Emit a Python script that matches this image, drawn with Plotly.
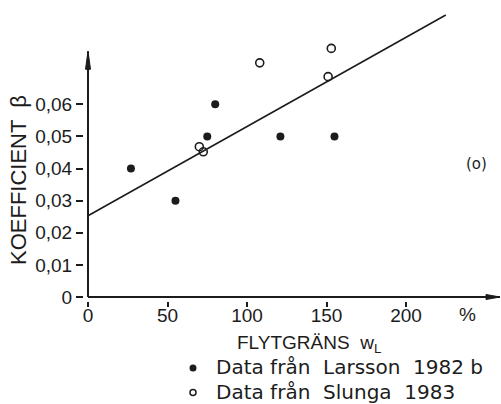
import plotly.graph_objects as go

# Liquid limit w_L (%) and coefficient beta
larsson_w = [27, 55, 75, 80, 121, 155]
larsson_beta = [0.040, 0.030, 0.050, 0.060, 0.050, 0.050]

slunga_w = [70, 72.5, 108, 153, 151]
slunga_beta = [0.0468, 0.0452, 0.0729, 0.0774, 0.0686]

# Fitted trend line end points
line_w = [0, 225]
line_beta = [0.0253, 0.0878]

x_ticks = [0, 50, 100, 150, 200]
x_ticktext = ["0", "50", "100", "150", "200"]
y_ticks = [0, 0.01, 0.02, 0.03, 0.04, 0.05, 0.06]
y_ticktext = ["0", "0,01", "0,02", "0,03", "0,04", "0,05", "0,06"]

legend_labels = ["Data från  Larsson  1982 b", "Data från  Slunga  1983"]

INK = "#1c1c1c"
TICK_FONT = dict(family="Liberation Sans, Arial, sans-serif", size=19, color=INK)
TITLE_FONT = dict(family="Liberation Sans, Arial, sans-serif", size=22, color=INK)
TEXT_FONT = dict(family="DejaVu Sans, sans-serif", size=20, color=INK)

X_MIN, X_MAX = -2.516, 259.1
Y_MIN, Y_MAX = -0.001245, 0.09247
Y_AXIS_TOP = 0.0765

# page layout in pixels
W, H = 501, 404
ML, MR, MT, MB = 84, 1, 0, 103
PW, PH = W - ML - MR, H - MT - MB


def px(xp):
    return (xp - ML) / PW


def py(yp):
    return (H - MB - yp) / PH


fig = go.Figure()

fig.add_trace(go.Scatter(
    x=line_w, y=line_beta, mode="lines",
    line=dict(color=INK, width=1.6), showlegend=False, hoverinfo="skip",
))
fig.add_trace(go.Scatter(
    x=larsson_w, y=larsson_beta, mode="markers", showlegend=False,
    name=legend_labels[0],
    marker=dict(symbol="circle", size=8, color=INK, line=dict(width=0)),
))
fig.add_trace(go.Scatter(
    x=slunga_w, y=slunga_beta, mode="markers", showlegend=False,
    name=legend_labels[1],
    marker=dict(symbol="circle-open", size=8, color=INK, line=dict(width=1.6)),
))

# Axis lines with arrow tips
fig.add_shape(type="line", x0=0, x1=0, y0=0, y1=Y_AXIS_TOP,
              line=dict(color=INK, width=2))
fig.add_shape(type="line", x0=0, x1=X_MAX, y0=0, y1=0,
              line=dict(color=INK, width=2))
fig.add_shape(type="path", xsizemode="pixel", ysizemode="pixel",
              xanchor=0, yanchor=Y_AXIS_TOP,
              path="M -2.5 -18 L 0 0 L 2.5 -18 Z",
              fillcolor=INK, line=dict(color=INK, width=1))
fig.add_shape(type="path", xsizemode="pixel", ysizemode="pixel",
              xanchor=X_MAX, yanchor=0,
              path="M -14 -2.5 L 0 0 L -14 2.5 Z",
              fillcolor=INK, line=dict(color=INK, width=1))

# Key below the chart
key_rows = [(368, True), (392.5, False)]
for label, (row_y, filled) in zip(legend_labels, key_rows):
    fig.add_shape(type="circle", xref="paper", yref="paper",
                  xsizemode="pixel", ysizemode="pixel",
                  xanchor=px(193), yanchor=py(row_y),
                  x0=-3.5 if filled else -3, x1=3.5 if filled else 3,
                  y0=-3.5 if filled else -3, y1=3.5 if filled else 3,
                  fillcolor=INK if filled else "white",
                  line=dict(color=INK, width=0 if filled else 1.5))
    fig.add_annotation(x=px(214), y=py(row_y - 1), xref="paper", yref="paper",
                       text=label, showarrow=False, font=TEXT_FONT,
                       xanchor="left", yanchor="middle")

fig.add_annotation(x=px(467), y=py(314), xref="paper", yref="paper", text="%",
                   showarrow=False, font=TICK_FONT, xanchor="center", yanchor="middle")
fig.add_annotation(x=px(235), y=py(344), xref="paper", yref="paper",
                   text="FLYTGRÄNS  w<sub>L</sub>",
                   showarrow=False, font=TICK_FONT, xanchor="left", yanchor="middle")
fig.add_annotation(x=px(19), y=py(180), xref="paper", yref="paper",
                   text="KOEFFICIENT  β", textangle=-90,
                   showarrow=False, font=TITLE_FONT, xanchor="center", yanchor="middle")
fig.add_annotation(x=244.5, y=0.0415, xref="x", yref="y", text="(o)",
                   showarrow=False,
                   font=dict(family="DejaVu Sans, sans-serif", size=15, color=INK))

fig.update_xaxes(
    range=[X_MIN, X_MAX], showgrid=False, zeroline=False, showline=False,
    tickmode="array", tickvals=x_ticks, ticktext=x_ticktext,
    ticks="outside", ticklen=5, tickwidth=1.5, tickcolor=INK,
    ticklabelstandoff=-8, tickfont=TICK_FONT,
)
fig.update_yaxes(
    range=[Y_MIN, Y_MAX], showgrid=False, zeroline=False, showline=False,
    tickmode="array", tickvals=y_ticks, ticktext=y_ticktext,
    ticks="outside", ticklen=7, tickwidth=1.5, tickcolor=INK,
    tickfont=TICK_FONT,
)

fig.update_layout(
    width=W, height=H,
    margin=dict(l=ML, r=MR, t=MT, b=MB),
    paper_bgcolor="white", plot_bgcolor="white",
    showlegend=False,
)

fig.write_html("out.html")
